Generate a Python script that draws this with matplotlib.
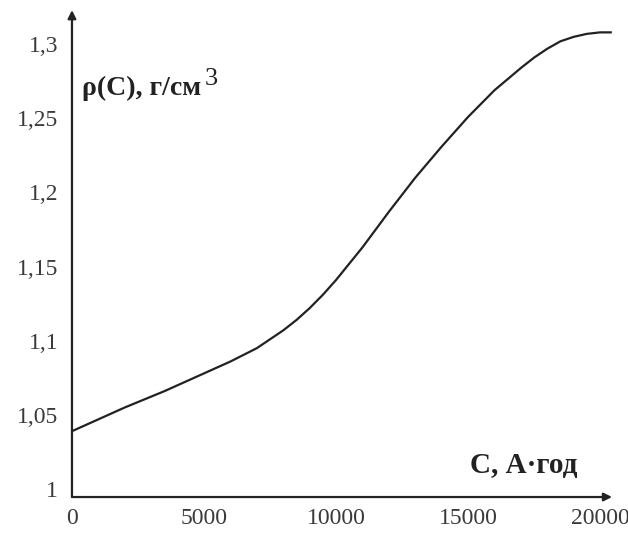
import numpy as np
import matplotlib.pyplot as plt

# дані
c_vals = [0, 1000, 2000, 3500, 5000, 6000, 7000, 7500, 8000, 8500, 9000, 9500,
          10000, 10500, 11000, 12000, 13000, 14000, 15000, 16000, 17000,
          17500, 18000, 18500, 19000, 19500, 20000, 20400]
rho_vals = [1.039, 1.047, 1.055, 1.066, 1.078, 1.086, 1.095, 1.101, 1.107, 1.114,
            1.122, 1.131, 1.141, 1.152, 1.163, 1.187, 1.210, 1.231, 1.251, 1.269,
            1.284, 1.291, 1.297, 1.302, 1.305, 1.307, 1.308, 1.308]
x_ticks = [0, 5000, 10000, 15000, 20000]
y_ticks = [1.0, 1.05, 1.1, 1.15, 1.2, 1.25, 1.3]
y_tick_labels = ['1', '1,05', '1,1', '1,15', '1,2', '1,25', '1,3']

plt.rcParams['font.family'] = ['Liberation Serif', 'DejaVu Serif']

fig = plt.figure(figsize=(6.28, 5.33), dpi=100, facecolor='w')
ax = fig.add_axes([0.1146, 0.0675, 0.86, 0.9135])

ax.plot(c_vals, rho_vals, color='#222222', linewidth=1.6)

ax.set_xlim(0, 20450)
ax.set_ylim(0.9946, 1.323)
ax.set_xticks(x_ticks)
ax.set_xticklabels([str(v) for v in x_ticks])
ax.set_yticks(y_ticks)
ax.set_yticklabels(y_tick_labels)
ax.tick_params(axis='both', length=0, labelsize=17, colors='#3a3a3a')
ax.tick_params(axis='y', pad=10)
ax.tick_params(axis='x', pad=8)

for s in ax.spines.values():
    s.set_visible(False)

# осі зі стрілками
arrow = dict(arrowstyle='-|>', color='#222222', lw=1.6, mutation_scale=12,
             shrinkA=0, shrinkB=0)
ax.annotate('', xy=(1.0, 0), xytext=(0, 0), xycoords='axes fraction', arrowprops=arrow)
ax.annotate('', xy=(0, 1.0), xytext=(0, 0), xycoords='axes fraction', arrowprops=arrow)

# підписи осей
ax.text(0.0185, 0.84, 'ρ(C), г/см', transform=ax.transAxes, fontsize=20,
        fontweight='bold', va='center', ha='left', color='#222222')
ax.text(0.246, 0.858, '3', transform=ax.transAxes, fontsize=19,
        va='center', ha='left', color='#222222')
ax.text(0.737, 0.064, 'C, А·год', transform=ax.transAxes, fontsize=21,
        fontweight='bold', va='center', ha='left', color='#222222')

plt.savefig('out.png', dpi=100, facecolor='w')
